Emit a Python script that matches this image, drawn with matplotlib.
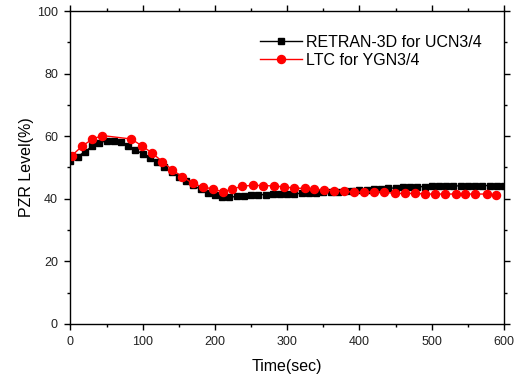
import numpy as np
import matplotlib
matplotlib.use('Agg')
import matplotlib.pyplot as plt
from matplotlib.ticker import MultipleLocator

plt.rcParams['font.family'] = ['Liberation Sans', 'DejaVu Sans']

# RETRAN-3D for UCN3/4, one point every 10 sec
retran_t = np.arange(0, 601, 10)
retran_level = [52.0, 53.5, 55.0, 56.8, 57.9, 58.5, 58.5, 58.1, 57.0, 55.6,
                54.3, 52.9, 51.6, 50.1, 48.6, 47.0, 45.6, 44.3, 43.0, 41.9,
                41.1, 40.6, 40.4, 40.8, 41.0, 41.2, 41.3, 41.3, 41.4, 41.5,
                41.5, 41.6, 41.7, 41.8, 41.9, 42.0, 42.1, 42.3, 42.4, 42.6,
                42.7, 42.9, 43.0, 43.2, 43.3, 43.5, 43.6, 43.7, 43.8, 43.9,
                44.0, 44.0, 44.1, 44.1, 44.1, 44.1, 44.2, 44.2, 44.2, 44.2,
                44.2]

# LTC for YGN3/4
ltc_t = [2, 16, 30, 44, 84, 99, 113, 127, 141, 155, 169, 183, 197, 211, 224,
         238, 252, 267, 281, 295, 310, 324, 337, 351, 365, 379, 393, 406, 420,
         434, 449, 463, 477, 491, 505, 519, 533, 546, 560, 576, 589]
ltc_level = [53.8, 56.8, 59.0, 60.2, 59.1, 56.9, 54.6, 51.9, 49.2, 47.0,
             44.9, 43.8, 43.1, 42.2, 43.1, 44.0, 44.3, 44.2, 44.1, 43.8,
             43.4, 43.3, 43.1, 42.8, 42.5, 42.4, 42.1, 42.1, 42.2, 42.1,
             41.7, 41.7, 41.7, 41.5, 41.5, 41.5, 41.5, 41.5, 41.5, 41.5, 41.2]

fig = plt.figure(figsize=(5.22, 3.81), dpi=100)
ax = fig.add_axes([0.135, 0.150, 0.8305, 0.821])

ax.plot(retran_t, retran_level, color='black', marker='s', markersize=5,
        linewidth=1, label='RETRAN-3D for UCN3/4')
ax.plot(ltc_t, ltc_level, color='red', marker='o', markersize=5.8,
        linewidth=1, label='LTC for YGN3/4')

ax.set_xlim(0, 600)
ax.set_ylim(0, 100)
ax.xaxis.set_major_locator(MultipleLocator(100))
ax.xaxis.set_minor_locator(MultipleLocator(50))
ax.yaxis.set_major_locator(MultipleLocator(20))
ax.yaxis.set_minor_locator(MultipleLocator(10))
ax.tick_params(which='both', direction='out', top=True, right=True,
               labelsize=9, width=1, colors='black', labelcolor='#222222')
ax.tick_params(which='major', length=4, pad=5)
ax.tick_params(which='minor', length=2.5)
for s in ax.spines.values():
    s.set_linewidth(1)

ax.set_xlabel('Time(sec)', fontsize=11.5, labelpad=8)
ax.set_ylabel('PZR Level(%)', fontsize=11.5, labelpad=2)

ax.legend(loc='upper right', bbox_to_anchor=(0.983, 0.97), frameon=False,
          fontsize=11.5, handlelength=2.6, handletextpad=0.3, labelspacing=0.2)

fig.savefig('out.png', dpi=100)
